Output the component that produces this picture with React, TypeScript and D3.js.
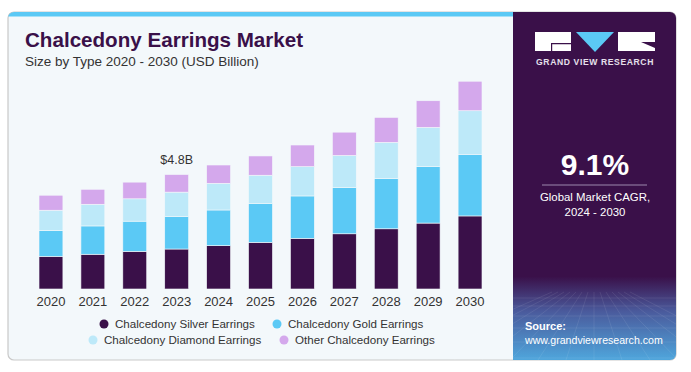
import { useEffect, useRef } from "react";
import * as d3 from "d3";

const width = 691;
const height = 372;

const years = ["2020", "2021", "2022", "2023", "2024", "2025", "2026", "2027", "2028", "2029", "2030"];
const silver = [1.37, 1.46, 1.58, 1.68, 1.82, 1.96, 2.13, 2.32, 2.53, 2.77, 3.07];
const gold = [1.09, 1.19, 1.27, 1.36, 1.5, 1.64, 1.78, 1.95, 2.12, 2.38, 2.59];
const diamond = [0.85, 0.91, 0.94, 1.03, 1.12, 1.18, 1.23, 1.34, 1.51, 1.64, 1.83];
const other = [0.63, 0.63, 0.7, 0.74, 0.77, 0.81, 0.91, 0.98, 1.05, 1.12, 1.24];

const seriesNames = [
  "Chalcedony Silver Earrings",
  "Chalcedony Gold Earrings",
  "Chalcedony Diamond Earrings",
  "Other Chalcedony Earrings",
];
const colors = ["#3a1049", "#5bc9f5", "#bde9f9", "#d4a8ec"];

const App = () => {
  const ref = useRef<SVGSVGElement>(null);

  useEffect(() => {
    const svg = d3.select(ref.current);
    svg.selectAll("*").remove();
    const font = "'Liberation Sans', Arial, sans-serif";

    const defs = svg.append("defs");
    const grad = defs.append("linearGradient").attr("id", "panelGrad")
      .attr("x1", 0).attr("y1", 0).attr("x2", 0).attr("y2", 1);
    grad.append("stop").attr("offset", "0%").attr("stop-color", "#3a1049");
    grad.append("stop").attr("offset", "76%").attr("stop-color", "#3a1049");
    grad.append("stop").attr("offset", "86%").attr("stop-color", "#4a5a9c");
    grad.append("stop").attr("offset", "100%").attr("stop-color", "#4fa6dc");
    defs.append("clipPath").attr("id", "cardClip")
      .append("rect").attr("x", 8).attr("y", 12).attr("width", 668).attr("height", 348).attr("rx", 6);

    // card
    svg.append("rect").attr("x", 8).attr("y", 12).attr("width", 668).attr("height", 348)
      .attr("rx", 6).attr("fill", "#f3f8fb").attr("stroke", "#c9c9c9").attr("stroke-width", 1.2);
    const card = svg.append("g").attr("clip-path", "url(#cardClip)");
    card.append("rect").attr("x", 8).attr("y", 12).attr("width", 506).attr("height", 4.5).attr("fill", "#5bc9f5");
    card.append("rect").attr("x", 513).attr("y", 12).attr("width", 164).attr("height", 348).attr("fill", "url(#panelGrad)");
    // faint grid in lower panel
    const grid = card.append("g").attr("stroke", "#ffffff").attr("stroke-opacity", 0.12).attr("stroke-width", 0.7);
    for (let i = 0; i < 14; i++) {
      grid.append("line").attr("x1", 594 + (i - 7) * 6).attr("y1", 292)
        .attr("x2", 594 + (i - 7) * 28).attr("y2", 360);
    }
    [298, 306, 316, 328, 342, 358].forEach((y) => {
      grid.append("line").attr("x1", 513).attr("x2", 677).attr("y1", y).attr("y2", y);
    });

    // title
    svg.append("text").attr("x", 25).attr("y", 47).attr("font-family", font).attr("font-weight", 900)
      .attr("font-size", 20.6).attr("fill", "#3a1049").text("Chalcedony Earrings Market");
    svg.append("text").attr("x", 25).attr("y", 65.5).attr("font-family", font)
      .attr("font-size", 13.5).attr("fill", "#333").text("Size by Type 2020 - 2030 (USD Billion)");

    // chart
    const x = d3.scaleBand().domain(years).range([30, 491]).paddingInner(0.43).paddingOuter(0.215);
    const y = d3.scaleLinear().domain([0, 10]).range([289, 51]);

    const rows = years.map((yr, i) => ({
      year: yr, s0: silver[i], s1: gold[i], s2: diamond[i], s3: other[i],
    }));
    const stack = d3.stack<any>().keys(["s0", "s1", "s2", "s3"]);
    const layers = stack(rows);

    layers.forEach((layer, li) => {
      svg.append("g").selectAll("rect").data(layer).enter().append("rect")
        .attr("x", (d: any) => x(d.data.year)!)
        .attr("width", x.bandwidth())
        .attr("y", (d) => y(d[1]))
        .attr("height", (d) => y(d[0]) - y(d[1]))
        .attr("fill", colors[li])
        .attr("stroke", "#f3f8fb").attr("stroke-width", 0.6);
    });

    const xAxis = svg.append("g").attr("transform", "translate(0,289)")
      .call(d3.axisBottom(x).tickSize(0).tickPadding(8));
    xAxis.select(".domain").remove();
    xAxis.selectAll("text").attr("font-family", font).attr("font-size", 13).attr("fill", "#333");

    const i23 = years.indexOf("2023");
    const total23 = silver[i23] + gold[i23] + diamond[i23] + other[i23];
    svg.append("text").attr("x", x("2023")! + x.bandwidth() / 2).attr("y", y(total23) - 11)
      .attr("text-anchor", "middle").attr("font-family", font).attr("font-size", 12.5).attr("fill", "#333")
      .text(`$${total23.toFixed(1)}B`);

    // legend
    const legendPos = [
      { cx: 104, cy: 324 },
      { cx: 277, cy: 324 },
      { cx: 93, cy: 340 },
      { cx: 284, cy: 340 },
    ];
    seriesNames.forEach((name, i) => {
      const p = legendPos[i];
      svg.append("circle").attr("cx", p.cx).attr("cy", p.cy).attr("r", 4.5).attr("fill", colors[i]);
      svg.append("text").attr("x", p.cx + 11).attr("y", p.cy + 4.2).attr("font-family", font)
        .attr("font-size", 11.6).attr("fill", "#333").text(name);
    });

    // logo
    const logo = svg.append("g");
    logo.append("rect").attr("x", 535).attr("y", 32).attr("width", 36).attr("height", 19).attr("fill", "#fff");
    logo.append("path").attr("d", "M551,43 L571,43 L571,44.2 L552.2,44.2 L552.2,51 L551,51 Z").attr("fill", "#3a1049");
    logo.append("path").attr("d", "M576,32 L614,32 L595,52 Z").attr("fill", "#5bc9f5");
    logo.append("rect").attr("x", 618).attr("y", 32).attr("width", 37).attr("height", 19).attr("fill", "#fff");
    logo.append("path").attr("d", "M641,42 L655,42 L655,48 Z").attr("fill", "#3a1049");
    svg.append("text").attr("x", 595).attr("y", 65).attr("text-anchor", "middle").attr("font-family", font)
      .attr("font-weight", "bold").attr("font-size", 8.6).attr("letter-spacing", 0.6).attr("fill", "#e6e0ec")
      .text("GRAND VIEW RESEARCH");

    // CAGR
    svg.append("text").attr("x", 595).attr("y", 175).attr("text-anchor", "middle").attr("font-family", font)
      .attr("font-weight", "bold").attr("font-size", 30).attr("fill", "#fff").text("9.1%");
    svg.append("line").attr("x1", 542).attr("x2", 647).attr("y1", 185).attr("y2", 185)
      .attr("stroke", "#9c88ad").attr("stroke-width", 1.2);
    svg.append("text").attr("x", 595).attr("y", 201).attr("text-anchor", "middle").attr("font-family", font)
      .attr("font-size", 11.4).attr("fill", "#fff").text("Global Market CAGR,");
    svg.append("text").attr("x", 595).attr("y", 216).attr("text-anchor", "middle").attr("font-family", font)
      .attr("font-size", 11.4).attr("fill", "#fff").text("2024 - 2030");

    // source
    svg.append("text").attr("x", 525).attr("y", 330).attr("font-family", font).attr("font-weight", "bold")
      .attr("font-size", 11).attr("fill", "#fff").text("Source:");
    svg.append("text").attr("x", 525).attr("y", 344).attr("font-family", font)
      .attr("font-size", 10.6).attr("fill", "#fff").text("www.grandviewresearch.com");
  }, []);

  return (
    <svg ref={ref} width={width} height={height}
      style={{ position: "absolute", left: 0, top: 0, background: "#fff" }} />
  );
};

export default App;
